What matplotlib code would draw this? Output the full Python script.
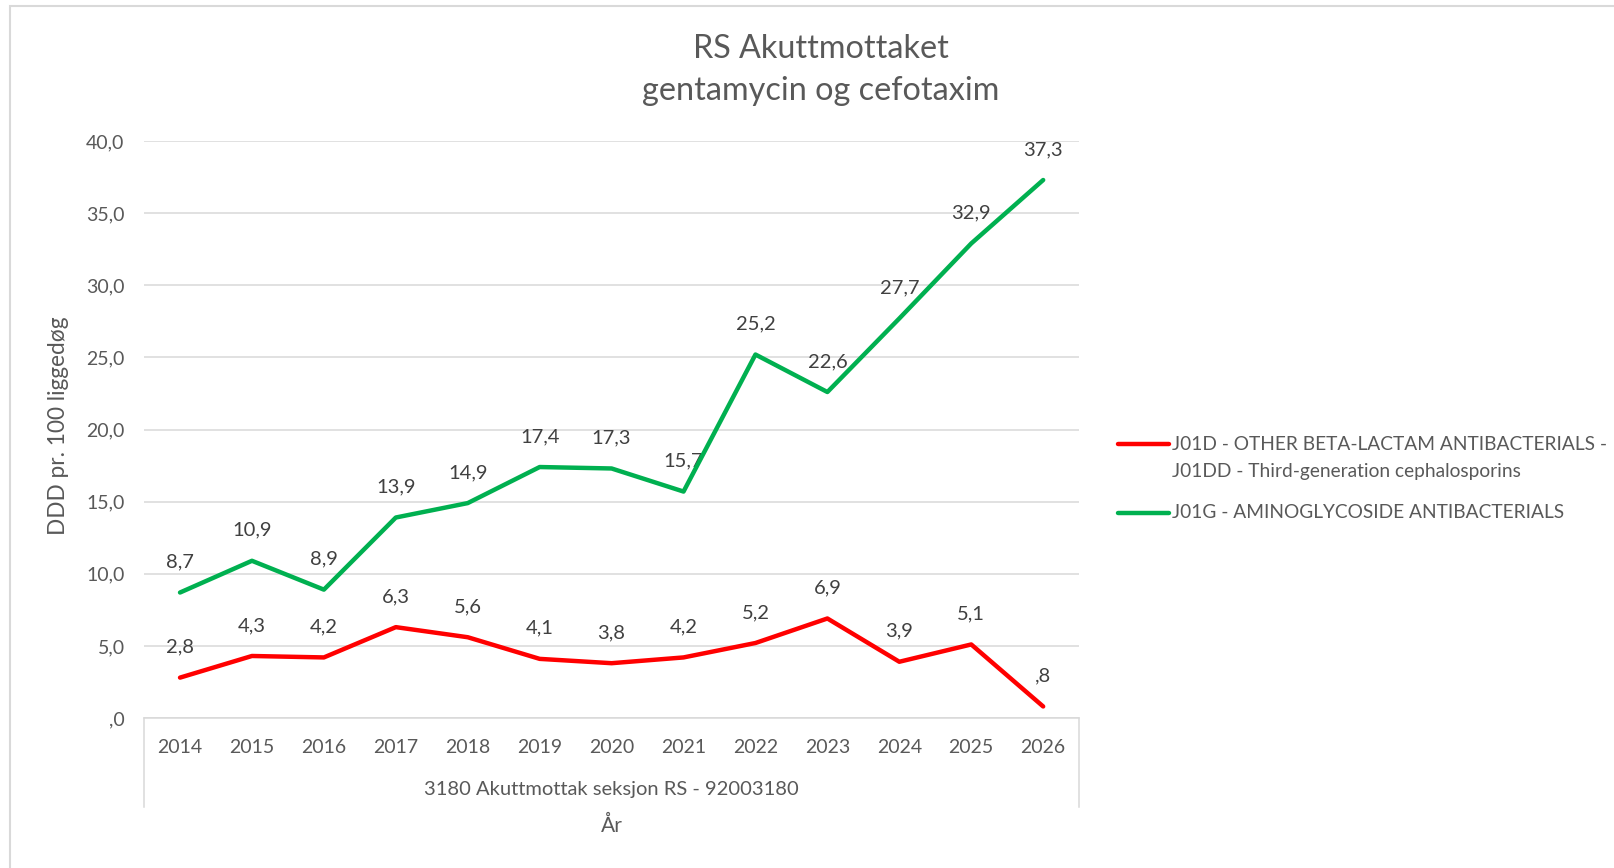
import matplotlib.pyplot as plt
from matplotlib.lines import Line2D
from matplotlib.patches import Rectangle

"""
RS Akuttmottaket - DDD pr. 100 liggedøg, gentamycin og cefotaxim
"""

years = ['2014', '2015', '2016', '2017', '2018', '2019', '2020',
         '2021', '2022', '2023', '2024', '2025', '2026']
j01d = [2.8, 4.3, 4.2, 6.3, 5.6, 4.1, 3.8, 4.2, 5.2, 6.9, 3.9, 5.1, 0.8]
j01g = [8.7, 10.9, 8.9, 13.9, 14.9, 17.4, 17.3, 15.7, 25.2, 22.6, 27.7, 32.9, 37.3]
yticks = [0, 5, 10, 15, 20, 25, 30, 35, 40]

label_j01d = ['J01D - OTHER BETA-LACTAM ANTIBACTERIALS -',
              'J01DD - Third-generation cephalosporins']
label_j01g = ['J01G - AMINOGLYCOSIDE ANTIBACTERIALS']

RED = '#FF0000'
GREEN = '#00B050'
GRID = '#D9D9D9'
TXT = '#595959'
LBL = '#404040'

plt.rcParams['font.family'] = ['Lato', 'DejaVu Sans']


def fmt(v):
    # norsk format: komma som desimaltegn, ingen ledende null
    s = f'{v:.1f}'.replace('.', ',')
    if s.startswith('0,'):
        s = s[1:]
    return s


fig = plt.figure(figsize=(16.15, 8.68), dpi=100)
ax = fig.add_axes([0.0892, 0.1728, 0.579, 0.6647])

x = list(range(len(years)))
ax.plot(x, j01d, color=RED, lw=3.2, solid_capstyle='round', zorder=3)
ax.plot(x, j01g, color=GREEN, lw=3.2, solid_capstyle='round', zorder=3)

for series in (j01d, j01g):
    for i, v in enumerate(series):
        ax.annotate(fmt(v), (i, v), xytext=(0, 22), textcoords='offset points',
                    ha='center', va='center', fontsize=14.5, color=LBL, zorder=2)

ax.set_xlim(-0.5, len(years) - 0.5)
ax.set_ylim(0, 40)
ax.set_yticks(yticks)
ax.set_yticklabels([fmt(v) for v in yticks])
ax.set_xticks(x)
ax.set_xticklabels(years)
ax.tick_params(axis='both', length=0, labelsize=14, labelcolor=TXT)
ax.tick_params(axis='y', pad=14)
ax.tick_params(axis='x', pad=15)
ax.grid(axis='y', color=GRID, lw=1.1)
ax.set_axisbelow(True)
for side in ('top', 'right', 'left'):
    ax.spines[side].set_visible(False)
ax.spines['bottom'].set_color(GRID)
ax.spines['bottom'].set_linewidth(1.1)

# boks rundt kategoriaksen (to nivåer)
for xa in (0, 1):
    ax.add_line(Line2D([xa, xa], [0, -0.154], transform=ax.transAxes,
                       color=GRID, lw=1.1, clip_on=False))

fig.text(0.3787, 0.0899, '3180 Akuttmottak seksjon RS - 92003180',
         ha='center', va='center', fontsize=14.5, color=TXT)
fig.text(0.3787, 0.0484, 'År', ha='center', va='center', fontsize=15, color=TXT)
fig.text(0.0365, 0.509, 'DDD pr. 100 liggedøg', rotation=90,
         ha='center', va='center', fontsize=16.3, color=TXT)

fig.text(0.5084, 0.919, 'RS Akuttmottaket\ngentamycin og cefotaxim',
         ha='center', va='center', fontsize=23.3, color=TXT, linespacing=1.5)

# legende
legend_rows = ((RED, label_j01d, 444), (GREEN, label_j01g, 513))
for color, lines, yp in legend_rows:
    yf = 1 - yp / 868
    fig.add_artist(Line2D([1118 / 1615, 1169 / 1615], [yf, yf],
                          transform=fig.transFigure, color=color, lw=3.2,
                          solid_capstyle='round'))
    for k, txt in enumerate(lines):
        fig.text(1172 / 1615, 1 - (yp + 27 * k) / 868, txt, ha='left', va='center',
                 fontsize=13.8, color=TXT)

# ramme rundt diagrammet
fig.add_artist(Rectangle((10 / 1615, -0.01), 1.1, 1 - 6 / 868 + 0.01,
                         transform=fig.transFigure, fill=False,
                         edgecolor=GRID, lw=1.5))

plt.savefig('out.png', dpi=100)
